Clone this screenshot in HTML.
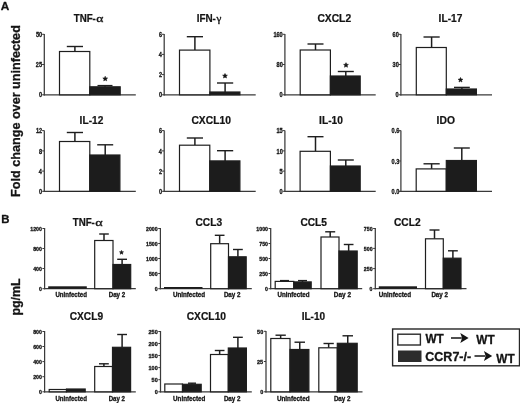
<!DOCTYPE html>
<html><head><meta charset="utf-8"><style>
html,body{margin:0;padding:0;background:#fff;}
body{width:520px;height:403px;overflow:hidden;}
svg{display:block;filter:blur(0.35px);}
text{stroke:#141414;stroke-width:.3px;stroke-linejoin:round;}
text.t{stroke-width:.22px;}
</style></head><body>
<svg width="520" height="403" viewBox="0 0 520 403">
<rect x="0" y="0" width="520" height="403" fill="#fff"/>
<line x1="44.3" y1="34" x2="44.3" y2="95.4" stroke="#3a3a3a" stroke-width="1.25" stroke-linecap="butt"/>
<line x1="43.7" y1="94.8" x2="135.8" y2="94.8" stroke="#3a3a3a" stroke-width="1.25" stroke-linecap="butt"/>
<line x1="42.1" y1="34.3" x2="44.3" y2="34.3" stroke="#3a3a3a" stroke-width="1.0" stroke-linecap="butt"/>
<text transform="translate(42.14,36.91) scale(0.85,1)" font-size="6.6" font-weight="bold" text-anchor="end" font-family='"Liberation Sans", sans-serif' fill="#141414">50</text>
<line x1="42.1" y1="64.5" x2="44.3" y2="64.5" stroke="#3a3a3a" stroke-width="1.0" stroke-linecap="butt"/>
<text transform="translate(42.05,67.11) scale(0.85,1)" font-size="6.6" font-weight="bold" text-anchor="end" font-family='"Liberation Sans", sans-serif' fill="#141414">25</text>
<line x1="42.1" y1="94.8" x2="44.3" y2="94.8" stroke="#3a3a3a" stroke-width="1.0" stroke-linecap="butt"/>
<text transform="translate(42.13,97.41) scale(0.85,1)" font-size="6.6" font-weight="bold" text-anchor="end" font-family='"Liberation Sans", sans-serif' fill="#141414">0</text>
<line x1="74.9" y1="46.5" x2="74.9" y2="51.5" stroke="#1e1e1e" stroke-width="1.5" stroke-linecap="butt"/>
<line x1="66.8" y1="46.5" x2="83" y2="46.5" stroke="#1e1e1e" stroke-width="1.4" stroke-linecap="butt"/>
<rect x="59.5" y="51.5" width="30.3" height="43.3" fill="#ffffff" stroke="#1e1e1e" stroke-width="1.2"/>
<line x1="105" y1="85.6" x2="105" y2="86.8" stroke="#1e1e1e" stroke-width="1.5" stroke-linecap="butt"/>
<line x1="97.5" y1="85.6" x2="112.5" y2="85.6" stroke="#1e1e1e" stroke-width="1.4" stroke-linecap="butt"/>
<rect x="89.8" y="86.8" width="30.4" height="8" fill="#1c1c1c" stroke="#1e1e1e" stroke-width="1.2"/>
<polygon points="105.20,76.30 105.86,77.89 107.58,78.03 106.27,79.15 106.67,80.82 105.20,79.92 103.73,80.82 104.13,79.15 102.82,78.03 104.54,77.89" fill="#141414" stroke="#141414" stroke-width="0.6" stroke-linejoin="round"/>
<line x1="164.2" y1="34" x2="164.2" y2="95.4" stroke="#3a3a3a" stroke-width="1.25" stroke-linecap="butt"/>
<line x1="163.6" y1="94.8" x2="255.7" y2="94.8" stroke="#3a3a3a" stroke-width="1.25" stroke-linecap="butt"/>
<line x1="162" y1="34.3" x2="164.2" y2="34.3" stroke="#3a3a3a" stroke-width="1.0" stroke-linecap="butt"/>
<text transform="translate(162,36.91) scale(0.85,1)" font-size="6.6" font-weight="bold" text-anchor="end" font-family='"Liberation Sans", sans-serif' fill="#141414">6</text>
<line x1="162" y1="54.4" x2="164.2" y2="54.4" stroke="#3a3a3a" stroke-width="1.0" stroke-linecap="butt"/>
<text transform="translate(161.83,57.01) scale(0.85,1)" font-size="6.6" font-weight="bold" text-anchor="end" font-family='"Liberation Sans", sans-serif' fill="#141414">4</text>
<line x1="162" y1="74.6" x2="164.2" y2="74.6" stroke="#3a3a3a" stroke-width="1.0" stroke-linecap="butt"/>
<text transform="translate(162.03,77.21) scale(0.85,1)" font-size="6.6" font-weight="bold" text-anchor="end" font-family='"Liberation Sans", sans-serif' fill="#141414">2</text>
<line x1="162" y1="94.8" x2="164.2" y2="94.8" stroke="#3a3a3a" stroke-width="1.0" stroke-linecap="butt"/>
<text transform="translate(162.03,97.41) scale(0.85,1)" font-size="6.6" font-weight="bold" text-anchor="end" font-family='"Liberation Sans", sans-serif' fill="#141414">0</text>
<line x1="194.9" y1="36.7" x2="194.9" y2="50.1" stroke="#1e1e1e" stroke-width="1.5" stroke-linecap="butt"/>
<line x1="186.8" y1="36.7" x2="203" y2="36.7" stroke="#1e1e1e" stroke-width="1.4" stroke-linecap="butt"/>
<rect x="179.5" y="50.1" width="30.4" height="44.7" fill="#ffffff" stroke="#1e1e1e" stroke-width="1.2"/>
<line x1="225.1" y1="83" x2="225.1" y2="92" stroke="#1e1e1e" stroke-width="1.5" stroke-linecap="butt"/>
<line x1="217" y1="83" x2="233.2" y2="83" stroke="#1e1e1e" stroke-width="1.4" stroke-linecap="butt"/>
<rect x="209.9" y="92" width="30" height="2.8" fill="#1c1c1c" stroke="#1e1e1e" stroke-width="1.2"/>
<polygon points="225.00,73.50 225.66,75.09 227.38,75.23 226.07,76.35 226.47,78.02 225.00,77.12 223.53,78.02 223.93,76.35 222.62,75.23 224.34,75.09" fill="#141414" stroke="#141414" stroke-width="0.6" stroke-linejoin="round"/>
<line x1="284.9" y1="34" x2="284.9" y2="95.4" stroke="#3a3a3a" stroke-width="1.25" stroke-linecap="butt"/>
<line x1="284.3" y1="94.8" x2="375.7" y2="94.8" stroke="#3a3a3a" stroke-width="1.25" stroke-linecap="butt"/>
<line x1="282.7" y1="34.3" x2="284.9" y2="34.3" stroke="#3a3a3a" stroke-width="1.0" stroke-linecap="butt"/>
<text transform="translate(282.74,36.91) scale(0.85,1)" font-size="6.6" font-weight="bold" text-anchor="end" font-family='"Liberation Sans", sans-serif' fill="#141414">160</text>
<line x1="282.7" y1="64.5" x2="284.9" y2="64.5" stroke="#3a3a3a" stroke-width="1.0" stroke-linecap="butt"/>
<text transform="translate(282.74,67.11) scale(0.85,1)" font-size="6.6" font-weight="bold" text-anchor="end" font-family='"Liberation Sans", sans-serif' fill="#141414">80</text>
<line x1="282.7" y1="94.8" x2="284.9" y2="94.8" stroke="#3a3a3a" stroke-width="1.0" stroke-linecap="butt"/>
<text transform="translate(282.73,97.41) scale(0.85,1)" font-size="6.6" font-weight="bold" text-anchor="end" font-family='"Liberation Sans", sans-serif' fill="#141414">0</text>
<line x1="315.5" y1="44" x2="315.5" y2="50" stroke="#1e1e1e" stroke-width="1.5" stroke-linecap="butt"/>
<line x1="307.5" y1="44" x2="323.5" y2="44" stroke="#1e1e1e" stroke-width="1.4" stroke-linecap="butt"/>
<rect x="300.2" y="50" width="30.2" height="44.8" fill="#ffffff" stroke="#1e1e1e" stroke-width="1.2"/>
<line x1="345.8" y1="71.5" x2="345.8" y2="76" stroke="#1e1e1e" stroke-width="1.5" stroke-linecap="butt"/>
<line x1="337.8" y1="71.5" x2="353.8" y2="71.5" stroke="#1e1e1e" stroke-width="1.4" stroke-linecap="butt"/>
<rect x="330.4" y="76" width="29.8" height="18.8" fill="#1c1c1c" stroke="#1e1e1e" stroke-width="1.2"/>
<polygon points="346.00,62.70 346.66,64.29 348.38,64.43 347.07,65.55 347.47,67.22 346.00,66.33 344.53,67.22 344.93,65.55 343.62,64.43 345.34,64.29" fill="#141414" stroke="#141414" stroke-width="0.6" stroke-linejoin="round"/>
<line x1="400.9" y1="34" x2="400.9" y2="95.4" stroke="#3a3a3a" stroke-width="1.25" stroke-linecap="butt"/>
<line x1="400.3" y1="94.8" x2="492" y2="94.8" stroke="#3a3a3a" stroke-width="1.25" stroke-linecap="butt"/>
<line x1="398.7" y1="34.3" x2="400.9" y2="34.3" stroke="#3a3a3a" stroke-width="1.0" stroke-linecap="butt"/>
<text transform="translate(398.74,36.91) scale(0.85,1)" font-size="6.6" font-weight="bold" text-anchor="end" font-family='"Liberation Sans", sans-serif' fill="#141414">60</text>
<line x1="398.7" y1="64.5" x2="400.9" y2="64.5" stroke="#3a3a3a" stroke-width="1.0" stroke-linecap="butt"/>
<text transform="translate(398.74,67.11) scale(0.85,1)" font-size="6.6" font-weight="bold" text-anchor="end" font-family='"Liberation Sans", sans-serif' fill="#141414">30</text>
<line x1="398.7" y1="94.8" x2="400.9" y2="94.8" stroke="#3a3a3a" stroke-width="1.0" stroke-linecap="butt"/>
<text transform="translate(398.73,97.41) scale(0.85,1)" font-size="6.6" font-weight="bold" text-anchor="end" font-family='"Liberation Sans", sans-serif' fill="#141414">0</text>
<line x1="431.6" y1="37" x2="431.6" y2="47.5" stroke="#1e1e1e" stroke-width="1.5" stroke-linecap="butt"/>
<line x1="423.5" y1="37" x2="439.7" y2="37" stroke="#1e1e1e" stroke-width="1.4" stroke-linecap="butt"/>
<rect x="416.3" y="47.5" width="30" height="47.3" fill="#ffffff" stroke="#1e1e1e" stroke-width="1.2"/>
<line x1="461.9" y1="87.4" x2="461.9" y2="89" stroke="#1e1e1e" stroke-width="1.5" stroke-linecap="butt"/>
<line x1="454" y1="87.4" x2="469.8" y2="87.4" stroke="#1e1e1e" stroke-width="1.4" stroke-linecap="butt"/>
<rect x="446.3" y="89" width="30.1" height="5.8" fill="#1c1c1c" stroke="#1e1e1e" stroke-width="1.2"/>
<polygon points="460.50,77.50 461.16,79.09 462.88,79.23 461.57,80.35 461.97,82.02 460.50,81.12 459.03,82.02 459.43,80.35 458.12,79.23 459.84,79.09" fill="#141414" stroke="#141414" stroke-width="0.6" stroke-linejoin="round"/>
<text x="73.7" y="22.1" font-size="10.1" font-weight="bold" font-family='"Liberation Sans", sans-serif' fill="#141414" textLength="22.17" lengthAdjust="spacingAndGlyphs" class="t">TNF-</text>
<text x="96.35" y="22.1" font-size="11.2" font-family='"Liberation Serif", serif' fill="#141414" textLength="7.12" lengthAdjust="spacingAndGlyphs" style="stroke-width:.35px">α</text>
<text x="196.64" y="22.1" font-size="10.1" font-weight="bold" font-family='"Liberation Sans", sans-serif' fill="#141414" textLength="19.25" lengthAdjust="spacingAndGlyphs" class="t">IFN-</text>
<text x="216.6" y="22.1" font-size="10.6" font-family='"Liberation Serif", serif' fill="#141414" textLength="4.83" lengthAdjust="spacingAndGlyphs" style="stroke-width:.35px">γ</text>
<text x="317.4" y="22.1" font-size="10.1" font-weight="bold" font-family='"Liberation Sans", sans-serif' fill="#141414" textLength="33.74" lengthAdjust="spacingAndGlyphs" class="t">CXCL2</text>
<text x="438.64" y="22.1" font-size="10.1" font-weight="bold" font-family='"Liberation Sans", sans-serif' fill="#141414" textLength="23.75" lengthAdjust="spacingAndGlyphs" class="t">IL-17</text>
<line x1="44.3" y1="130.4" x2="44.3" y2="191.9" stroke="#3a3a3a" stroke-width="1.25" stroke-linecap="butt"/>
<line x1="43.7" y1="191.3" x2="135.8" y2="191.3" stroke="#3a3a3a" stroke-width="1.25" stroke-linecap="butt"/>
<line x1="42.1" y1="130.6" x2="44.3" y2="130.6" stroke="#3a3a3a" stroke-width="1.0" stroke-linecap="butt"/>
<text transform="translate(42.14,133.21) scale(0.85,1)" font-size="6.6" font-weight="bold" text-anchor="end" font-family='"Liberation Sans", sans-serif' fill="#141414">12</text>
<line x1="42.1" y1="150.9" x2="44.3" y2="150.9" stroke="#3a3a3a" stroke-width="1.0" stroke-linecap="butt"/>
<text transform="translate(42.07,153.51) scale(0.85,1)" font-size="6.6" font-weight="bold" text-anchor="end" font-family='"Liberation Sans", sans-serif' fill="#141414">8</text>
<line x1="42.1" y1="171.1" x2="44.3" y2="171.1" stroke="#3a3a3a" stroke-width="1.0" stroke-linecap="butt"/>
<text transform="translate(41.93,173.71) scale(0.85,1)" font-size="6.6" font-weight="bold" text-anchor="end" font-family='"Liberation Sans", sans-serif' fill="#141414">4</text>
<line x1="42.1" y1="191.3" x2="44.3" y2="191.3" stroke="#3a3a3a" stroke-width="1.0" stroke-linecap="butt"/>
<text transform="translate(42.13,193.91) scale(0.85,1)" font-size="6.6" font-weight="bold" text-anchor="end" font-family='"Liberation Sans", sans-serif' fill="#141414">0</text>
<line x1="74.9" y1="132.5" x2="74.9" y2="141.5" stroke="#1e1e1e" stroke-width="1.5" stroke-linecap="butt"/>
<line x1="66.8" y1="132.5" x2="83" y2="132.5" stroke="#1e1e1e" stroke-width="1.4" stroke-linecap="butt"/>
<rect x="59.5" y="141.5" width="30.3" height="49.8" fill="#ffffff" stroke="#1e1e1e" stroke-width="1.2"/>
<line x1="105.2" y1="144.8" x2="105.2" y2="155" stroke="#1e1e1e" stroke-width="1.5" stroke-linecap="butt"/>
<line x1="97.2" y1="144.8" x2="113.2" y2="144.8" stroke="#1e1e1e" stroke-width="1.4" stroke-linecap="butt"/>
<rect x="89.8" y="155" width="30.1" height="36.3" fill="#1c1c1c" stroke="#1e1e1e" stroke-width="1.2"/>
<line x1="164.2" y1="130.4" x2="164.2" y2="191.9" stroke="#3a3a3a" stroke-width="1.25" stroke-linecap="butt"/>
<line x1="163.6" y1="191.3" x2="255.7" y2="191.3" stroke="#3a3a3a" stroke-width="1.25" stroke-linecap="butt"/>
<line x1="162" y1="130.6" x2="164.2" y2="130.6" stroke="#3a3a3a" stroke-width="1.0" stroke-linecap="butt"/>
<text transform="translate(162,133.21) scale(0.85,1)" font-size="6.6" font-weight="bold" text-anchor="end" font-family='"Liberation Sans", sans-serif' fill="#141414">6</text>
<line x1="162" y1="150.9" x2="164.2" y2="150.9" stroke="#3a3a3a" stroke-width="1.0" stroke-linecap="butt"/>
<text transform="translate(161.83,153.51) scale(0.85,1)" font-size="6.6" font-weight="bold" text-anchor="end" font-family='"Liberation Sans", sans-serif' fill="#141414">4</text>
<line x1="162" y1="171.1" x2="164.2" y2="171.1" stroke="#3a3a3a" stroke-width="1.0" stroke-linecap="butt"/>
<text transform="translate(162.03,173.71) scale(0.85,1)" font-size="6.6" font-weight="bold" text-anchor="end" font-family='"Liberation Sans", sans-serif' fill="#141414">2</text>
<line x1="162" y1="191.3" x2="164.2" y2="191.3" stroke="#3a3a3a" stroke-width="1.0" stroke-linecap="butt"/>
<text transform="translate(162.03,193.91) scale(0.85,1)" font-size="6.6" font-weight="bold" text-anchor="end" font-family='"Liberation Sans", sans-serif' fill="#141414">0</text>
<line x1="194.9" y1="138" x2="194.9" y2="145.2" stroke="#1e1e1e" stroke-width="1.5" stroke-linecap="butt"/>
<line x1="186.8" y1="138" x2="203" y2="138" stroke="#1e1e1e" stroke-width="1.4" stroke-linecap="butt"/>
<rect x="179.5" y="145.2" width="30.3" height="46.1" fill="#ffffff" stroke="#1e1e1e" stroke-width="1.2"/>
<line x1="225.1" y1="150.7" x2="225.1" y2="160.9" stroke="#1e1e1e" stroke-width="1.5" stroke-linecap="butt"/>
<line x1="217" y1="150.7" x2="233.2" y2="150.7" stroke="#1e1e1e" stroke-width="1.4" stroke-linecap="butt"/>
<rect x="209.8" y="160.9" width="30.1" height="30.4" fill="#1c1c1c" stroke="#1e1e1e" stroke-width="1.2"/>
<line x1="284.9" y1="130.4" x2="284.9" y2="191.9" stroke="#3a3a3a" stroke-width="1.25" stroke-linecap="butt"/>
<line x1="284.3" y1="191.3" x2="375.7" y2="191.3" stroke="#3a3a3a" stroke-width="1.25" stroke-linecap="butt"/>
<line x1="282.7" y1="130.6" x2="284.9" y2="130.6" stroke="#3a3a3a" stroke-width="1.0" stroke-linecap="butt"/>
<text transform="translate(282.65,133.21) scale(0.85,1)" font-size="6.6" font-weight="bold" text-anchor="end" font-family='"Liberation Sans", sans-serif' fill="#141414">15</text>
<line x1="282.7" y1="150.9" x2="284.9" y2="150.9" stroke="#3a3a3a" stroke-width="1.0" stroke-linecap="butt"/>
<text transform="translate(282.74,153.51) scale(0.85,1)" font-size="6.6" font-weight="bold" text-anchor="end" font-family='"Liberation Sans", sans-serif' fill="#141414">10</text>
<line x1="282.7" y1="171.1" x2="284.9" y2="171.1" stroke="#3a3a3a" stroke-width="1.0" stroke-linecap="butt"/>
<text transform="translate(282.65,173.71) scale(0.85,1)" font-size="6.6" font-weight="bold" text-anchor="end" font-family='"Liberation Sans", sans-serif' fill="#141414">5</text>
<line x1="282.7" y1="191.3" x2="284.9" y2="191.3" stroke="#3a3a3a" stroke-width="1.0" stroke-linecap="butt"/>
<text transform="translate(282.73,193.91) scale(0.85,1)" font-size="6.6" font-weight="bold" text-anchor="end" font-family='"Liberation Sans", sans-serif' fill="#141414">0</text>
<line x1="315.5" y1="136.7" x2="315.5" y2="151.3" stroke="#1e1e1e" stroke-width="1.5" stroke-linecap="butt"/>
<line x1="307.5" y1="136.7" x2="323.5" y2="136.7" stroke="#1e1e1e" stroke-width="1.4" stroke-linecap="butt"/>
<rect x="300.1" y="151.3" width="30.3" height="40" fill="#ffffff" stroke="#1e1e1e" stroke-width="1.2"/>
<line x1="345.8" y1="160" x2="345.8" y2="166" stroke="#1e1e1e" stroke-width="1.5" stroke-linecap="butt"/>
<line x1="337.8" y1="160" x2="353.8" y2="160" stroke="#1e1e1e" stroke-width="1.4" stroke-linecap="butt"/>
<rect x="330.4" y="166" width="29.8" height="25.3" fill="#1c1c1c" stroke="#1e1e1e" stroke-width="1.2"/>
<line x1="400.9" y1="130.4" x2="400.9" y2="191.9" stroke="#3a3a3a" stroke-width="1.25" stroke-linecap="butt"/>
<line x1="400.3" y1="191.3" x2="492" y2="191.3" stroke="#3a3a3a" stroke-width="1.25" stroke-linecap="butt"/>
<line x1="398.7" y1="130.6" x2="400.9" y2="130.6" stroke="#3a3a3a" stroke-width="1.0" stroke-linecap="butt"/>
<text transform="translate(399.3,133.21) scale(0.85,1)" font-size="6.6" font-weight="bold" text-anchor="end" font-family='"Liberation Sans", sans-serif' fill="#141414">0.6</text>
<line x1="398.7" y1="161" x2="400.9" y2="161" stroke="#3a3a3a" stroke-width="1.0" stroke-linecap="butt"/>
<text transform="translate(399.3,163.61) scale(0.85,1)" font-size="6.6" font-weight="bold" text-anchor="end" font-family='"Liberation Sans", sans-serif' fill="#141414">0.3</text>
<line x1="398.7" y1="191.3" x2="400.9" y2="191.3" stroke="#3a3a3a" stroke-width="1.0" stroke-linecap="butt"/>
<text transform="translate(399.33,193.91) scale(0.85,1)" font-size="6.6" font-weight="bold" text-anchor="end" font-family='"Liberation Sans", sans-serif' fill="#141414">0.0</text>
<line x1="431.6" y1="163.8" x2="431.6" y2="168.9" stroke="#1e1e1e" stroke-width="1.5" stroke-linecap="butt"/>
<line x1="423.5" y1="163.8" x2="439.7" y2="163.8" stroke="#1e1e1e" stroke-width="1.4" stroke-linecap="butt"/>
<rect x="416.2" y="168.9" width="30.1" height="22.4" fill="#ffffff" stroke="#1e1e1e" stroke-width="1.2"/>
<line x1="461.8" y1="148" x2="461.8" y2="160.5" stroke="#1e1e1e" stroke-width="1.5" stroke-linecap="butt"/>
<line x1="453.8" y1="148" x2="469.8" y2="148" stroke="#1e1e1e" stroke-width="1.4" stroke-linecap="butt"/>
<rect x="446.3" y="160.5" width="30.1" height="30.8" fill="#1c1c1c" stroke="#1e1e1e" stroke-width="1.2"/>
<text x="79.64" y="124.3" font-size="10.1" font-weight="bold" font-family='"Liberation Sans", sans-serif' fill="#141414" textLength="23.75" lengthAdjust="spacingAndGlyphs" class="t">IL-12</text>
<text x="191.4" y="124.3" font-size="10.1" font-weight="bold" font-family='"Liberation Sans", sans-serif' fill="#141414" textLength="39.5" lengthAdjust="spacingAndGlyphs" class="t">CXCL10</text>
<text x="319.14" y="124.3" font-size="10.1" font-weight="bold" font-family='"Liberation Sans", sans-serif' fill="#141414" textLength="23.75" lengthAdjust="spacingAndGlyphs" class="t">IL-10</text>
<text x="436.64" y="124.3" font-size="10.1" font-weight="bold" font-family='"Liberation Sans", sans-serif' fill="#141414" textLength="18.29" lengthAdjust="spacingAndGlyphs" class="t">IDO</text>
<line x1="44.6" y1="228" x2="44.6" y2="289.3" stroke="#3a3a3a" stroke-width="1.25" stroke-linecap="butt"/>
<line x1="44" y1="288.7" x2="135.8" y2="288.7" stroke="#3a3a3a" stroke-width="1.25" stroke-linecap="butt"/>
<line x1="42.4" y1="228.5" x2="44.6" y2="228.5" stroke="#3a3a3a" stroke-width="1.0" stroke-linecap="butt"/>
<text x="41.81" y="230.62" font-size="5.2" font-weight="bold" text-anchor="end" font-family='"Liberation Sans", sans-serif' fill="#141414">1200</text>
<line x1="42.4" y1="248.5" x2="44.6" y2="248.5" stroke="#3a3a3a" stroke-width="1.0" stroke-linecap="butt"/>
<text x="41.83" y="250.62" font-size="5.2" font-weight="bold" text-anchor="end" font-family='"Liberation Sans", sans-serif' fill="#141414">800</text>
<line x1="42.4" y1="268.5" x2="44.6" y2="268.5" stroke="#3a3a3a" stroke-width="1.0" stroke-linecap="butt"/>
<text x="41.83" y="270.62" font-size="5.2" font-weight="bold" text-anchor="end" font-family='"Liberation Sans", sans-serif' fill="#141414">400</text>
<line x1="42.4" y1="288.7" x2="44.6" y2="288.7" stroke="#3a3a3a" stroke-width="1.0" stroke-linecap="butt"/>
<text x="41.81" y="290.82" font-size="5.2" font-weight="bold" text-anchor="end" font-family='"Liberation Sans", sans-serif' fill="#141414">0</text>
<line x1="104" y1="234" x2="104" y2="240.5" stroke="#1e1e1e" stroke-width="1.5" stroke-linecap="butt"/>
<line x1="99.2" y1="234" x2="108.8" y2="234" stroke="#1e1e1e" stroke-width="1.4" stroke-linecap="butt"/>
<rect x="94.7" y="240.5" width="18.3" height="48.2" fill="#ffffff" stroke="#1e1e1e" stroke-width="1.2"/>
<line x1="122.1" y1="259.3" x2="122.1" y2="264.5" stroke="#1e1e1e" stroke-width="1.5" stroke-linecap="butt"/>
<line x1="117.2" y1="259.3" x2="127" y2="259.3" stroke="#1e1e1e" stroke-width="1.4" stroke-linecap="butt"/>
<rect x="113" y="264.5" width="17.7" height="24.2" fill="#1c1c1c" stroke="#1e1e1e" stroke-width="1.2"/>
<rect x="48.2" y="286.3" width="38.6" height="2.4" fill="#1c1c1c"/>
<polygon points="121.50,250.40 122.06,251.74 123.50,251.85 122.40,252.79 122.73,254.20 121.50,253.44 120.27,254.20 120.60,252.79 119.50,251.85 120.94,251.74" fill="#141414" stroke="#141414" stroke-width="0.6" stroke-linejoin="round"/>
<line x1="160.4" y1="228" x2="160.4" y2="289.3" stroke="#3a3a3a" stroke-width="1.25" stroke-linecap="butt"/>
<line x1="159.8" y1="288.7" x2="251.8" y2="288.7" stroke="#3a3a3a" stroke-width="1.25" stroke-linecap="butt"/>
<line x1="158.2" y1="228.5" x2="160.4" y2="228.5" stroke="#3a3a3a" stroke-width="1.0" stroke-linecap="butt"/>
<text x="157.61" y="230.62" font-size="5.2" font-weight="bold" text-anchor="end" font-family='"Liberation Sans", sans-serif' fill="#141414">2000</text>
<line x1="158.2" y1="243.5" x2="160.4" y2="243.5" stroke="#3a3a3a" stroke-width="1.0" stroke-linecap="butt"/>
<text x="157.61" y="245.62" font-size="5.2" font-weight="bold" text-anchor="end" font-family='"Liberation Sans", sans-serif' fill="#141414">1500</text>
<line x1="158.2" y1="258.5" x2="160.4" y2="258.5" stroke="#3a3a3a" stroke-width="1.0" stroke-linecap="butt"/>
<text x="157.61" y="260.62" font-size="5.2" font-weight="bold" text-anchor="end" font-family='"Liberation Sans", sans-serif' fill="#141414">1000</text>
<line x1="158.2" y1="273.5" x2="160.4" y2="273.5" stroke="#3a3a3a" stroke-width="1.0" stroke-linecap="butt"/>
<text x="157.63" y="275.62" font-size="5.2" font-weight="bold" text-anchor="end" font-family='"Liberation Sans", sans-serif' fill="#141414">500</text>
<line x1="158.2" y1="288.7" x2="160.4" y2="288.7" stroke="#3a3a3a" stroke-width="1.0" stroke-linecap="butt"/>
<text x="157.61" y="290.82" font-size="5.2" font-weight="bold" text-anchor="end" font-family='"Liberation Sans", sans-serif' fill="#141414">0</text>
<line x1="219.65" y1="235.3" x2="219.65" y2="243.7" stroke="#1e1e1e" stroke-width="1.5" stroke-linecap="butt"/>
<line x1="214.8" y1="235.3" x2="224.5" y2="235.3" stroke="#1e1e1e" stroke-width="1.4" stroke-linecap="butt"/>
<rect x="210.7" y="243.7" width="17.8" height="45" fill="#ffffff" stroke="#1e1e1e" stroke-width="1.2"/>
<line x1="237.9" y1="249.5" x2="237.9" y2="256.8" stroke="#1e1e1e" stroke-width="1.5" stroke-linecap="butt"/>
<line x1="233" y1="249.5" x2="242.8" y2="249.5" stroke="#1e1e1e" stroke-width="1.4" stroke-linecap="butt"/>
<rect x="228.5" y="256.8" width="17.7" height="31.9" fill="#1c1c1c" stroke="#1e1e1e" stroke-width="1.2"/>
<rect x="164" y="287" width="38.5" height="1.7" fill="#1c1c1c"/>
<line x1="270.7" y1="228" x2="270.7" y2="289.3" stroke="#3a3a3a" stroke-width="1.25" stroke-linecap="butt"/>
<line x1="270.1" y1="288.7" x2="362.2" y2="288.7" stroke="#3a3a3a" stroke-width="1.25" stroke-linecap="butt"/>
<line x1="268.5" y1="228.5" x2="270.7" y2="228.5" stroke="#3a3a3a" stroke-width="1.0" stroke-linecap="butt"/>
<text x="267.91" y="230.62" font-size="5.2" font-weight="bold" text-anchor="end" font-family='"Liberation Sans", sans-serif' fill="#141414">1000</text>
<line x1="268.5" y1="243.5" x2="270.7" y2="243.5" stroke="#3a3a3a" stroke-width="1.0" stroke-linecap="butt"/>
<text x="267.93" y="245.62" font-size="5.2" font-weight="bold" text-anchor="end" font-family='"Liberation Sans", sans-serif' fill="#141414">750</text>
<line x1="268.5" y1="258.5" x2="270.7" y2="258.5" stroke="#3a3a3a" stroke-width="1.0" stroke-linecap="butt"/>
<text x="267.93" y="260.62" font-size="5.2" font-weight="bold" text-anchor="end" font-family='"Liberation Sans", sans-serif' fill="#141414">500</text>
<line x1="268.5" y1="273.5" x2="270.7" y2="273.5" stroke="#3a3a3a" stroke-width="1.0" stroke-linecap="butt"/>
<text x="267.93" y="275.62" font-size="5.2" font-weight="bold" text-anchor="end" font-family='"Liberation Sans", sans-serif' fill="#141414">250</text>
<line x1="268.5" y1="288.7" x2="270.7" y2="288.7" stroke="#3a3a3a" stroke-width="1.0" stroke-linecap="butt"/>
<text x="267.91" y="290.82" font-size="5.2" font-weight="bold" text-anchor="end" font-family='"Liberation Sans", sans-serif' fill="#141414">0</text>
<line x1="284.5" y1="280.6" x2="284.5" y2="281.4" stroke="#1e1e1e" stroke-width="1.5" stroke-linecap="butt"/>
<line x1="280" y1="280.6" x2="289" y2="280.6" stroke="#1e1e1e" stroke-width="1.4" stroke-linecap="butt"/>
<rect x="275.2" y="281.4" width="18.6" height="7.3" fill="#ffffff" stroke="#1e1e1e" stroke-width="1.2"/>
<line x1="302.5" y1="280.6" x2="302.5" y2="281.9" stroke="#1e1e1e" stroke-width="1.5" stroke-linecap="butt"/>
<line x1="298" y1="280.6" x2="307" y2="280.6" stroke="#1e1e1e" stroke-width="1.4" stroke-linecap="butt"/>
<rect x="293.8" y="281.9" width="17.4" height="6.8" fill="#1c1c1c" stroke="#1e1e1e" stroke-width="1.2"/>
<line x1="330.2" y1="231.8" x2="330.2" y2="237" stroke="#1e1e1e" stroke-width="1.5" stroke-linecap="butt"/>
<line x1="325.2" y1="231.8" x2="335.2" y2="231.8" stroke="#1e1e1e" stroke-width="1.4" stroke-linecap="butt"/>
<rect x="321" y="237" width="18" height="51.7" fill="#ffffff" stroke="#1e1e1e" stroke-width="1.2"/>
<line x1="348.65" y1="244.5" x2="348.65" y2="251" stroke="#1e1e1e" stroke-width="1.5" stroke-linecap="butt"/>
<line x1="343.8" y1="244.5" x2="353.5" y2="244.5" stroke="#1e1e1e" stroke-width="1.4" stroke-linecap="butt"/>
<rect x="339" y="251" width="18.2" height="37.7" fill="#1c1c1c" stroke="#1e1e1e" stroke-width="1.2"/>
<line x1="375.3" y1="228" x2="375.3" y2="289.3" stroke="#3a3a3a" stroke-width="1.25" stroke-linecap="butt"/>
<line x1="374.7" y1="288.7" x2="466.5" y2="288.7" stroke="#3a3a3a" stroke-width="1.25" stroke-linecap="butt"/>
<line x1="373.1" y1="228.5" x2="375.3" y2="228.5" stroke="#3a3a3a" stroke-width="1.0" stroke-linecap="butt"/>
<text x="372.53" y="230.62" font-size="5.2" font-weight="bold" text-anchor="end" font-family='"Liberation Sans", sans-serif' fill="#141414">750</text>
<line x1="373.1" y1="248.4" x2="375.3" y2="248.4" stroke="#3a3a3a" stroke-width="1.0" stroke-linecap="butt"/>
<text x="372.53" y="250.52" font-size="5.2" font-weight="bold" text-anchor="end" font-family='"Liberation Sans", sans-serif' fill="#141414">500</text>
<line x1="373.1" y1="268.6" x2="375.3" y2="268.6" stroke="#3a3a3a" stroke-width="1.0" stroke-linecap="butt"/>
<text x="372.53" y="270.72" font-size="5.2" font-weight="bold" text-anchor="end" font-family='"Liberation Sans", sans-serif' fill="#141414">250</text>
<line x1="373.1" y1="288.7" x2="375.3" y2="288.7" stroke="#3a3a3a" stroke-width="1.0" stroke-linecap="butt"/>
<text x="372.51" y="290.82" font-size="5.2" font-weight="bold" text-anchor="end" font-family='"Liberation Sans", sans-serif' fill="#141414">0</text>
<line x1="434.5" y1="230" x2="434.5" y2="238.8" stroke="#1e1e1e" stroke-width="1.5" stroke-linecap="butt"/>
<line x1="429.5" y1="230" x2="439.5" y2="230" stroke="#1e1e1e" stroke-width="1.4" stroke-linecap="butt"/>
<rect x="425.5" y="238.8" width="17.8" height="49.9" fill="#ffffff" stroke="#1e1e1e" stroke-width="1.2"/>
<line x1="452.9" y1="250.8" x2="452.9" y2="258.2" stroke="#1e1e1e" stroke-width="1.5" stroke-linecap="butt"/>
<line x1="448" y1="250.8" x2="457.8" y2="250.8" stroke="#1e1e1e" stroke-width="1.4" stroke-linecap="butt"/>
<rect x="443.3" y="258.2" width="17.7" height="30.5" fill="#1c1c1c" stroke="#1e1e1e" stroke-width="1.2"/>
<rect x="378.8" y="286.3" width="38.2" height="2.4" fill="#1c1c1c"/>
<text x="72.7" y="225.7" font-size="10.1" font-weight="bold" font-family='"Liberation Sans", sans-serif' fill="#141414" textLength="22.17" lengthAdjust="spacingAndGlyphs" class="t">TNF-</text>
<text x="95.35" y="225.7" font-size="11.2" font-family='"Liberation Serif", serif' fill="#141414" textLength="7.42" lengthAdjust="spacingAndGlyphs" style="stroke-width:.35px">α</text>
<text x="195.39" y="225.9" font-size="10.3" font-weight="bold" font-family='"Liberation Sans", sans-serif' fill="#141414" textLength="26.69" lengthAdjust="spacingAndGlyphs" class="t">CCL3</text>
<text x="300.39" y="225.9" font-size="10.3" font-weight="bold" font-family='"Liberation Sans", sans-serif' fill="#141414" textLength="26.58" lengthAdjust="spacingAndGlyphs" class="t">CCL5</text>
<text x="393.89" y="225.9" font-size="10.3" font-weight="bold" font-family='"Liberation Sans", sans-serif' fill="#141414" textLength="26.74" lengthAdjust="spacingAndGlyphs" class="t">CCL2</text>
<text x="55.42" y="296.8" font-size="6.3" font-weight="bold" font-family='"Liberation Sans", sans-serif' fill="#141414" textLength="31.5" lengthAdjust="spacingAndGlyphs">Uninfected</text>
<text x="172.92" y="296.8" font-size="6.3" font-weight="bold" font-family='"Liberation Sans", sans-serif' fill="#141414" textLength="32.2" lengthAdjust="spacingAndGlyphs">Uninfected</text>
<text x="277.42" y="296.8" font-size="6.3" font-weight="bold" font-family='"Liberation Sans", sans-serif' fill="#141414" textLength="32.2" lengthAdjust="spacingAndGlyphs">Uninfected</text>
<text x="378.72" y="296.8" font-size="6.3" font-weight="bold" font-family='"Liberation Sans", sans-serif' fill="#141414" textLength="32.4" lengthAdjust="spacingAndGlyphs">Uninfected</text>
<text x="108.69" y="296.8" font-size="6.3" font-weight="bold" font-family='"Liberation Sans", sans-serif' fill="#141414" textLength="16.48" lengthAdjust="spacingAndGlyphs">Day 2</text>
<text x="223.89" y="296.8" font-size="6.3" font-weight="bold" font-family='"Liberation Sans", sans-serif' fill="#141414" textLength="16.58" lengthAdjust="spacingAndGlyphs">Day 2</text>
<text x="333.89" y="296.8" font-size="6.3" font-weight="bold" font-family='"Liberation Sans", sans-serif' fill="#141414" textLength="17.08" lengthAdjust="spacingAndGlyphs">Day 2</text>
<text x="431.39" y="296.8" font-size="6.3" font-weight="bold" font-family='"Liberation Sans", sans-serif' fill="#141414" textLength="16.58" lengthAdjust="spacingAndGlyphs">Day 2</text>
<line x1="44.6" y1="331" x2="44.6" y2="392.4" stroke="#3a3a3a" stroke-width="1.25" stroke-linecap="butt"/>
<line x1="44" y1="391.8" x2="135.8" y2="391.8" stroke="#3a3a3a" stroke-width="1.25" stroke-linecap="butt"/>
<line x1="42.4" y1="331.5" x2="44.6" y2="331.5" stroke="#3a3a3a" stroke-width="1.0" stroke-linecap="butt"/>
<text x="41.83" y="333.62" font-size="5.2" font-weight="bold" text-anchor="end" font-family='"Liberation Sans", sans-serif' fill="#141414">800</text>
<line x1="42.4" y1="346.5" x2="44.6" y2="346.5" stroke="#3a3a3a" stroke-width="1.0" stroke-linecap="butt"/>
<text x="41.83" y="348.62" font-size="5.2" font-weight="bold" text-anchor="end" font-family='"Liberation Sans", sans-serif' fill="#141414">600</text>
<line x1="42.4" y1="361.6" x2="44.6" y2="361.6" stroke="#3a3a3a" stroke-width="1.0" stroke-linecap="butt"/>
<text x="41.83" y="363.72" font-size="5.2" font-weight="bold" text-anchor="end" font-family='"Liberation Sans", sans-serif' fill="#141414">400</text>
<line x1="42.4" y1="376.7" x2="44.6" y2="376.7" stroke="#3a3a3a" stroke-width="1.0" stroke-linecap="butt"/>
<text x="41.83" y="378.82" font-size="5.2" font-weight="bold" text-anchor="end" font-family='"Liberation Sans", sans-serif' fill="#141414">200</text>
<line x1="42.4" y1="391.8" x2="44.6" y2="391.8" stroke="#3a3a3a" stroke-width="1.0" stroke-linecap="butt"/>
<text x="41.81" y="393.92" font-size="5.2" font-weight="bold" text-anchor="end" font-family='"Liberation Sans", sans-serif' fill="#141414">0</text>
<rect x="49.2" y="389.5" width="17.3" height="2.3" fill="#ffffff" stroke="#1e1e1e" stroke-width="1.2"/>
<rect x="66.5" y="389" width="18.7" height="2.8" fill="#1c1c1c" stroke="#1e1e1e" stroke-width="1.2"/>
<line x1="103.9" y1="363.8" x2="103.9" y2="366.5" stroke="#1e1e1e" stroke-width="1.5" stroke-linecap="butt"/>
<line x1="99" y1="363.8" x2="108.8" y2="363.8" stroke="#1e1e1e" stroke-width="1.4" stroke-linecap="butt"/>
<rect x="94.7" y="366.5" width="17.8" height="25.3" fill="#ffffff" stroke="#1e1e1e" stroke-width="1.2"/>
<line x1="122.1" y1="334.5" x2="122.1" y2="347.3" stroke="#1e1e1e" stroke-width="1.5" stroke-linecap="butt"/>
<line x1="117.2" y1="334.5" x2="127" y2="334.5" stroke="#1e1e1e" stroke-width="1.4" stroke-linecap="butt"/>
<rect x="112.5" y="347.3" width="18.1" height="44.5" fill="#1c1c1c" stroke="#1e1e1e" stroke-width="1.2"/>
<line x1="160.5" y1="331" x2="160.5" y2="392.4" stroke="#3a3a3a" stroke-width="1.25" stroke-linecap="butt"/>
<line x1="159.9" y1="391.8" x2="251.8" y2="391.8" stroke="#3a3a3a" stroke-width="1.25" stroke-linecap="butt"/>
<line x1="158.3" y1="331.5" x2="160.5" y2="331.5" stroke="#3a3a3a" stroke-width="1.0" stroke-linecap="butt"/>
<text x="157.74" y="333.73" font-size="5.5" font-weight="bold" text-anchor="end" font-family='"Liberation Sans", sans-serif' fill="#141414">250</text>
<line x1="158.3" y1="343.5" x2="160.5" y2="343.5" stroke="#3a3a3a" stroke-width="1.0" stroke-linecap="butt"/>
<text x="157.74" y="345.73" font-size="5.5" font-weight="bold" text-anchor="end" font-family='"Liberation Sans", sans-serif' fill="#141414">200</text>
<line x1="158.3" y1="355.5" x2="160.5" y2="355.5" stroke="#3a3a3a" stroke-width="1.0" stroke-linecap="butt"/>
<text x="157.74" y="357.73" font-size="5.5" font-weight="bold" text-anchor="end" font-family='"Liberation Sans", sans-serif' fill="#141414">150</text>
<line x1="158.3" y1="367.6" x2="160.5" y2="367.6" stroke="#3a3a3a" stroke-width="1.0" stroke-linecap="butt"/>
<text x="157.74" y="369.83" font-size="5.5" font-weight="bold" text-anchor="end" font-family='"Liberation Sans", sans-serif' fill="#141414">100</text>
<line x1="158.3" y1="379.7" x2="160.5" y2="379.7" stroke="#3a3a3a" stroke-width="1.0" stroke-linecap="butt"/>
<text x="157.73" y="381.93" font-size="5.5" font-weight="bold" text-anchor="end" font-family='"Liberation Sans", sans-serif' fill="#141414">50</text>
<line x1="158.3" y1="391.8" x2="160.5" y2="391.8" stroke="#3a3a3a" stroke-width="1.0" stroke-linecap="butt"/>
<text x="157.73" y="394.03" font-size="5.5" font-weight="bold" text-anchor="end" font-family='"Liberation Sans", sans-serif' fill="#141414">0</text>
<rect x="164.8" y="384" width="17.7" height="7.8" fill="#ffffff" stroke="#1e1e1e" stroke-width="1.2"/>
<line x1="192" y1="383.2" x2="192" y2="384.3" stroke="#1e1e1e" stroke-width="1.5" stroke-linecap="butt"/>
<line x1="188" y1="383.2" x2="196" y2="383.2" stroke="#1e1e1e" stroke-width="1.4" stroke-linecap="butt"/>
<rect x="182.5" y="384.3" width="18.7" height="7.5" fill="#1c1c1c" stroke="#1e1e1e" stroke-width="1.2"/>
<line x1="219.65" y1="350.5" x2="219.65" y2="354.5" stroke="#1e1e1e" stroke-width="1.5" stroke-linecap="butt"/>
<line x1="214.8" y1="350.5" x2="224.5" y2="350.5" stroke="#1e1e1e" stroke-width="1.4" stroke-linecap="butt"/>
<rect x="210.5" y="354.5" width="17.8" height="37.3" fill="#ffffff" stroke="#1e1e1e" stroke-width="1.2"/>
<line x1="237.9" y1="337.3" x2="237.9" y2="348" stroke="#1e1e1e" stroke-width="1.5" stroke-linecap="butt"/>
<line x1="233" y1="337.3" x2="242.8" y2="337.3" stroke="#1e1e1e" stroke-width="1.4" stroke-linecap="butt"/>
<rect x="228.3" y="348" width="18.1" height="43.8" fill="#1c1c1c" stroke="#1e1e1e" stroke-width="1.2"/>
<line x1="266" y1="331" x2="266" y2="392.4" stroke="#3a3a3a" stroke-width="1.25" stroke-linecap="butt"/>
<line x1="265.4" y1="391.8" x2="362.5" y2="391.8" stroke="#3a3a3a" stroke-width="1.25" stroke-linecap="butt"/>
<line x1="263.8" y1="331.3" x2="266" y2="331.3" stroke="#3a3a3a" stroke-width="1.0" stroke-linecap="butt"/>
<text x="263.23" y="333.53" font-size="5.5" font-weight="bold" text-anchor="end" font-family='"Liberation Sans", sans-serif' fill="#141414">50</text>
<line x1="263.8" y1="361.5" x2="266" y2="361.5" stroke="#3a3a3a" stroke-width="1.0" stroke-linecap="butt"/>
<text x="263.15" y="363.73" font-size="5.5" font-weight="bold" text-anchor="end" font-family='"Liberation Sans", sans-serif' fill="#141414">25</text>
<line x1="263.8" y1="391.8" x2="266" y2="391.8" stroke="#3a3a3a" stroke-width="1.0" stroke-linecap="butt"/>
<text x="263.23" y="394.03" font-size="5.5" font-weight="bold" text-anchor="end" font-family='"Liberation Sans", sans-serif' fill="#141414">0</text>
<line x1="280.65" y1="335.2" x2="280.65" y2="338.5" stroke="#1e1e1e" stroke-width="1.5" stroke-linecap="butt"/>
<line x1="275.5" y1="335.2" x2="285.8" y2="335.2" stroke="#1e1e1e" stroke-width="1.4" stroke-linecap="butt"/>
<rect x="270.8" y="338.5" width="19.2" height="53.3" fill="#ffffff" stroke="#1e1e1e" stroke-width="1.2"/>
<line x1="299.75" y1="342.2" x2="299.75" y2="349.5" stroke="#1e1e1e" stroke-width="1.5" stroke-linecap="butt"/>
<line x1="294.5" y1="342.2" x2="305" y2="342.2" stroke="#1e1e1e" stroke-width="1.4" stroke-linecap="butt"/>
<rect x="290" y="349.5" width="18.9" height="42.3" fill="#1c1c1c" stroke="#1e1e1e" stroke-width="1.2"/>
<line x1="328.65" y1="343.5" x2="328.65" y2="347.8" stroke="#1e1e1e" stroke-width="1.5" stroke-linecap="butt"/>
<line x1="323.5" y1="343.5" x2="333.8" y2="343.5" stroke="#1e1e1e" stroke-width="1.4" stroke-linecap="butt"/>
<rect x="318.8" y="347.8" width="18.5" height="44" fill="#ffffff" stroke="#1e1e1e" stroke-width="1.2"/>
<line x1="347.75" y1="335.8" x2="347.75" y2="343.3" stroke="#1e1e1e" stroke-width="1.5" stroke-linecap="butt"/>
<line x1="342.5" y1="335.8" x2="353" y2="335.8" stroke="#1e1e1e" stroke-width="1.4" stroke-linecap="butt"/>
<rect x="337.3" y="343.3" width="19.9" height="48.5" fill="#1c1c1c" stroke="#1e1e1e" stroke-width="1.2"/>
<text x="69.7" y="320.3" font-size="10.1" font-weight="bold" font-family='"Liberation Sans", sans-serif' fill="#141414" textLength="33.39" lengthAdjust="spacingAndGlyphs" class="t">CXCL9</text>
<text x="186.7" y="320.3" font-size="10.1" font-weight="bold" font-family='"Liberation Sans", sans-serif' fill="#141414" textLength="39.4" lengthAdjust="spacingAndGlyphs" class="t">CXCL10</text>
<text x="301.64" y="320.3" font-size="10.1" font-weight="bold" font-family='"Liberation Sans", sans-serif' fill="#141414" textLength="23.45" lengthAdjust="spacingAndGlyphs" class="t">IL-10</text>
<text x="55.42" y="401" font-size="6.3" font-weight="bold" font-family='"Liberation Sans", sans-serif' fill="#141414" textLength="31.5" lengthAdjust="spacingAndGlyphs">Uninfected</text>
<text x="173.12" y="401" font-size="6.3" font-weight="bold" font-family='"Liberation Sans", sans-serif' fill="#141414" textLength="32.2" lengthAdjust="spacingAndGlyphs">Uninfected</text>
<text x="276.92" y="401" font-size="6.3" font-weight="bold" font-family='"Liberation Sans", sans-serif' fill="#141414" textLength="32.7" lengthAdjust="spacingAndGlyphs">Uninfected</text>
<text x="108.69" y="401" font-size="6.3" font-weight="bold" font-family='"Liberation Sans", sans-serif' fill="#141414" textLength="16.28" lengthAdjust="spacingAndGlyphs">Day 2</text>
<text x="223.89" y="401" font-size="6.3" font-weight="bold" font-family='"Liberation Sans", sans-serif' fill="#141414" textLength="16.58" lengthAdjust="spacingAndGlyphs">Day 2</text>
<text x="333.89" y="401" font-size="6.3" font-weight="bold" font-family='"Liberation Sans", sans-serif' fill="#141414" textLength="16.58" lengthAdjust="spacingAndGlyphs">Day 2</text>
<text x="0.7" y="9.5" font-size="11.8" font-weight="bold" font-family='"Liberation Sans", sans-serif' fill="#141414" >A</text>
<text x="1.16" y="223.3" font-size="11.4" font-weight="bold" font-family='"Liberation Sans", sans-serif' fill="#141414" >B</text>
<text transform="rotate(-90)" x="-196.9" y="19.5" font-size="12.3" font-weight="bold" font-family='"Liberation Sans", sans-serif' fill="#141414" textLength="171.74" lengthAdjust="spacingAndGlyphs">Fold change over uninfected</text>
<text transform="rotate(-90)" x="-315.59" y="19.8" font-size="12.2" font-weight="bold" font-family='"Liberation Sans", sans-serif' fill="#141414" textLength="37.25" lengthAdjust="spacingAndGlyphs">pg/mL</text>
<rect x="392.6" y="329.0" width="126.9" height="36.8" fill="none" stroke="#262626" stroke-width="1.4"/>
<rect x="397.8" y="334.2" width="22.6" height="10.8" fill="#ffffff" stroke="#2a2a2a" stroke-width="1.4"/>
<rect x="398.0" y="350.5" width="23.5" height="11.5" fill="#2c2c2c"/>
<text x="425.5" y="343.3" font-size="12.0" font-weight="bold" font-family='"Liberation Sans", sans-serif' fill="#141414" textLength="18.32" lengthAdjust="spacingAndGlyphs">WT</text>
<text x="476.3" y="343.5" font-size="12.0" font-weight="bold" font-family='"Liberation Sans", sans-serif' fill="#141414" textLength="18.32" lengthAdjust="spacingAndGlyphs">WT</text>
<text x="425.32" y="361" font-size="12.0" font-weight="bold" font-family='"Liberation Sans", sans-serif' fill="#141414" textLength="45.82" lengthAdjust="spacingAndGlyphs">CCR7-/-</text>
<text x="496.3" y="362.8" font-size="12.0" font-weight="bold" font-family='"Liberation Sans", sans-serif' fill="#141414" textLength="18.32" lengthAdjust="spacingAndGlyphs">WT</text>
<line x1="451" y1="338" x2="461.8" y2="338" stroke="#141414" stroke-width="1.5" stroke-linecap="butt"/>
<polygon points="460.3,333 468.6,338 460.3,343 462.1,338" fill="#141414"/>
<line x1="474.5" y1="356" x2="485.4" y2="356" stroke="#141414" stroke-width="1.5" stroke-linecap="butt"/>
<polygon points="483.9,351 492.2,356 483.9,361 485.7,356" fill="#141414"/>
</svg>
</body></html>
